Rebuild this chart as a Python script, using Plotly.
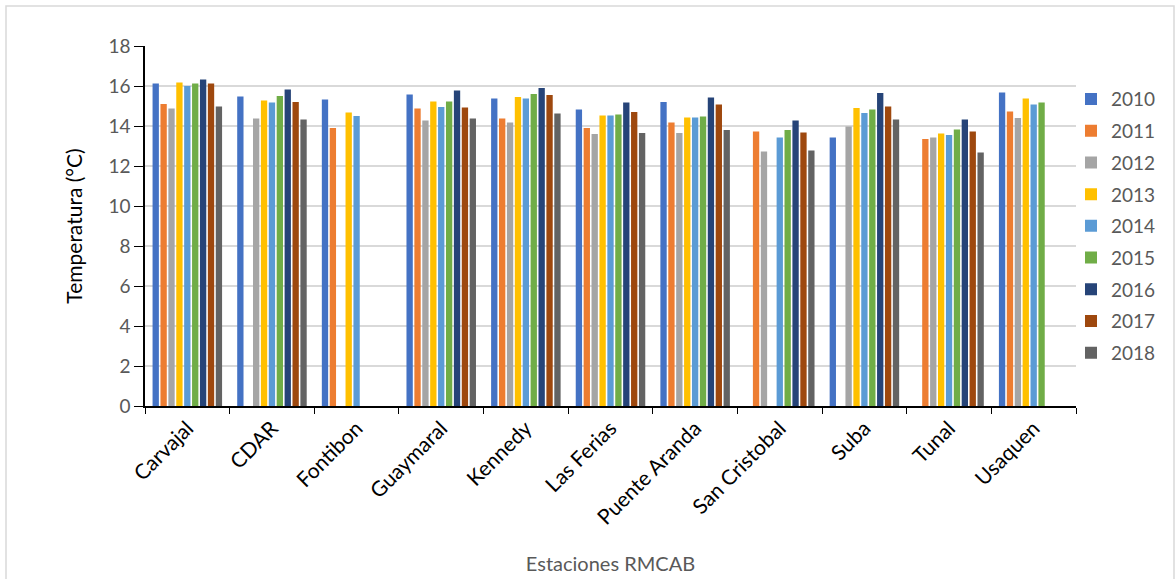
import plotly.graph_objects as go

estaciones = ["Carvajal", "CDAR", "Fontibon", "Guaymaral", "Kennedy", "Las Ferias",
              "Puente Aranda", "San Cristobal", "Suba", "Tunal", "Usaquen"]

# Mean temperature (°C) per station; None where there is no record for the year
t2010 = [16.13, 15.47, 15.32, 15.57, 15.37, 14.83, 15.20, None, 13.42, None, 15.68]
t2011 = [15.10, None, 13.90, 14.87, 14.37, 13.90, 14.18, 13.72, None, 13.35, 14.72]
t2012 = [14.88, 14.38, None, 14.27, 14.18, 13.60, 13.65, 12.72, 13.98, 13.43, 14.40]
t2013 = [16.18, 15.27, 14.68, 15.23, 15.45, 14.53, 14.43, None, 14.90, 13.62, 15.38]
t2014 = [16.00, 15.17, 14.50, 14.95, 15.37, 14.53, 14.42, 13.43, 14.65, 13.55, 15.08]
t2015 = [16.12, 15.50, None, 15.22, 15.60, 14.58, 14.48, 13.80, 14.82, 13.83, 15.17]
t2016 = [16.33, 15.82, None, 15.77, 15.90, 15.18, 15.43, 14.27, 15.65, 14.32, None]
t2017 = [16.13, 15.20, None, 14.93, 15.55, 14.70, 15.08, 13.68, 14.97, 13.72, None]
t2018 = [14.98, 14.32, None, 14.37, 14.62, 13.65, 13.80, 12.77, 14.33, 12.68, None]

years = ["2010", "2011", "2012", "2013", "2014", "2015", "2016", "2017", "2018"]
series = [t2010, t2011, t2012, t2013, t2014, t2015, t2016, t2017, t2018]
colors = ["#4472C4", "#ED7D31", "#A5A5A5", "#FFC000", "#5B9BD5",
          "#70AD47", "#264478", "#9E480E", "#636363"]

FONT = "Lato"
GREY = "#595959"

fig = go.Figure()
for name, vals, col in zip(years, series, colors):
    fig.add_trace(go.Bar(
        x=estaciones, y=vals, name=name, legendgroup=name,
        marker=dict(color=col, line=dict(width=0)),
    ))

fig.update_layout(
    width=1175, height=579,
    margin=dict(l=145, r=99, t=46, b=173),
    paper_bgcolor="white", plot_bgcolor="white",
    barmode="group", bargap=0.16, bargroupgap=0.2,
    font=dict(family=FONT, size=16, color=GREY),
    legend=dict(
        x=1.0 - 5 / 931, xanchor="left", y=0.905, yanchor="top",
        font=dict(family=FONT, size=19, color=GREY),
        tracegroupgap=4, itemwidth=30,
        bgcolor="rgba(0,0,0,0)",
    ),
    xaxis=dict(
        type="category", tickangle=-45, automargin=False,
        tickfont=dict(family=FONT, size=21, color="black"),
        showline=True, linecolor="black", linewidth=1.5,
        ticks="outside", tickson="boundaries", ticklen=6, tickcolor="black",
        title=dict(text="Estaciones RMCAB", font=dict(family=FONT, size=20, color=GREY),
                   standoff=29),
    ),
    yaxis=dict(
        range=[0, 18], dtick=2, automargin=False,
        tickfont=dict(family=FONT, size=19, color=GREY),
        showgrid=True, gridcolor="#D9D9D9", gridwidth=1.5,
        showline=True, linecolor="black", linewidth=1.5,
        ticks="outside", ticklen=9, tickcolor="black",
        zeroline=False,
        title=dict(text="Temperatura (°C)", font=dict(family=FONT, size=21, color="black"),
                   standoff=20),
    ),
    shapes=[dict(
        type="rect", xref="paper", yref="paper",
        x0=-139 / 931, x1=1029 / 931, y0=-180 / 360, y1=400 / 360,
        line=dict(color="#D9D9D9", width=1.5), fillcolor="rgba(0,0,0,0)",
        layer="below",
    )],
)

fig.write_html("out.html")
